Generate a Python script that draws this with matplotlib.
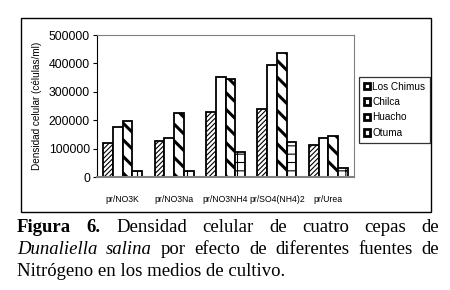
import matplotlib.pyplot as plt
import numpy as np
from matplotlib.patches import Rectangle

fuentes = ["pr/NO3K", "pr/NO3Na", "pr/NO3NH4", "pr/SO4(NH4)2", "pr/Urea"]
cepas = ["Los Chimus", "Chilca", "Huacho", "Otuma"]
los_chimus = [118000, 127000, 228000, 238000, 112000]
chilca = [177000, 139000, 353000, 394000, 139000]
huacho = [198000, 224000, 344000, 436000, 146000]
otuma = [21000, 21000, 88000, 124000, 30000]
yticks = [0, 100000, 200000, 300000, 400000, 500000]

W, H = 450, 290
fig = plt.figure(figsize=(4.5, 2.9), dpi=100)
fig.patch.set_facecolor("white")

# outer chart frame
fig.add_artist(Rectangle((21 / W, 1 - 212 / H), 410 / W, 194 / H, transform=fig.transFigure,
                         fill=False, edgecolor="black", linewidth=1.0))

ax = fig.add_axes([97 / W, 1 - 177 / H, 257 / W, 142 / H])
plt.rcParams["hatch.linewidth"] = 0.8

series = [los_chimus, chilca, huacho, otuma]
hatches = ["///////", "", "\\\\", "++"]
x = np.arange(len(fuentes))
bw = 0.19
handles = []
for i, (vals, h) in enumerate(zip(series, hatches)):
    bars = ax.bar(x + (i - 1.5) * bw, vals, bw, color="white", edgecolor="black",
                  linewidth=1.3, hatch=h, label=cepas[i])
    if i == 2:
        for b in bars:
            try:
                b.set_hatch_linewidth(2.2)
            except AttributeError:
                pass
    handles.append(bars)

ax.set_xlim(-0.5, len(fuentes) - 0.5)
ax.set_ylim(0, 500000)
ax.set_yticks(yticks)
ax.set_yticklabels([str(v) for v in yticks], fontsize=8.8, family="Liberation Sans")
ax.set_xticks(x)
ax.set_xticklabels(fuentes, fontsize=6.2, family="Liberation Sans")
ax.tick_params(axis="x", length=0, pad=13)
ax.tick_params(axis="y", length=3, width=0.8, pad=2)
for s in ["top", "right"]:
    ax.spines[s].set_color("#808080")
ax.spines["bottom"].set_color("#808080")
ax.spines["bottom"].set_linewidth(1.5)
ax.spines["left"].set_color("black")
ax.set_ylabel("Densidad celular (células/ml)", fontsize=7.2, family="Liberation Sans", labelpad=5)

leg = fig.legend(handles=handles, labels=cepas, loc="upper left",
                 bbox_to_anchor=(359 / W, 1 - 77 / H),
                 prop={"family": "Liberation Sans", "size": 7.2},
                 frameon=True, fancybox=False, edgecolor="black",
                 handlelength=0.6, handleheight=0.6, handletextpad=0.3,
                 labelspacing=0.55, borderpad=0.45, borderaxespad=0)
leg.get_frame().set_linewidth(0.9)
for p in leg.get_patches():
    p.set_facecolor("white")
    p.set_edgecolor("black")
    p.set_linewidth(2.0)
    p.set_hatch("")

# caption, justified
fig.canvas.draw()
renderer = fig.canvas.get_renderer()
serif = "Liberation Serif"
fs = 13.5
lines = [
    [("Figura", "bold", "normal"), ("6.", "bold", "normal"), ("Densidad", "normal", "normal"),
     ("celular", "normal", "normal"), ("de", "normal", "normal"), ("cuatro", "normal", "normal"),
     ("cepas", "normal", "normal"), ("de", "normal", "normal")],
    [("Dunaliella", "normal", "italic"), ("salina", "normal", "italic"), ("por", "normal", "normal"),
     ("efecto", "normal", "normal"), ("de", "normal", "normal"), ("diferentes", "normal", "normal"),
     ("fuentes", "normal", "normal"), ("de", "normal", "normal")],
]
x0, x1 = 17, 439
ys = [228, 250]
for line, ypx in zip(lines, ys):
    texts = [fig.text(0, 1 - ypx / H, w, fontsize=fs, family=serif, weight=wt, style=st,
                      va="center", ha="left") for w, wt, st in line]
    widths = [t.get_window_extent(renderer).width for t in texts]
    gap = (x1 - x0 - sum(widths)) / (len(texts) - 1)
    xp = x0
    for t, wd in zip(texts, widths):
        t.set_x(xp / W)
        xp += wd + gap
fig.text(x0 / W, 1 - 271 / H, "Nitrógeno en los medios de cultivo.", fontsize=fs,
         family=serif, va="center", ha="left")

fig.savefig("out.png", dpi=100)
